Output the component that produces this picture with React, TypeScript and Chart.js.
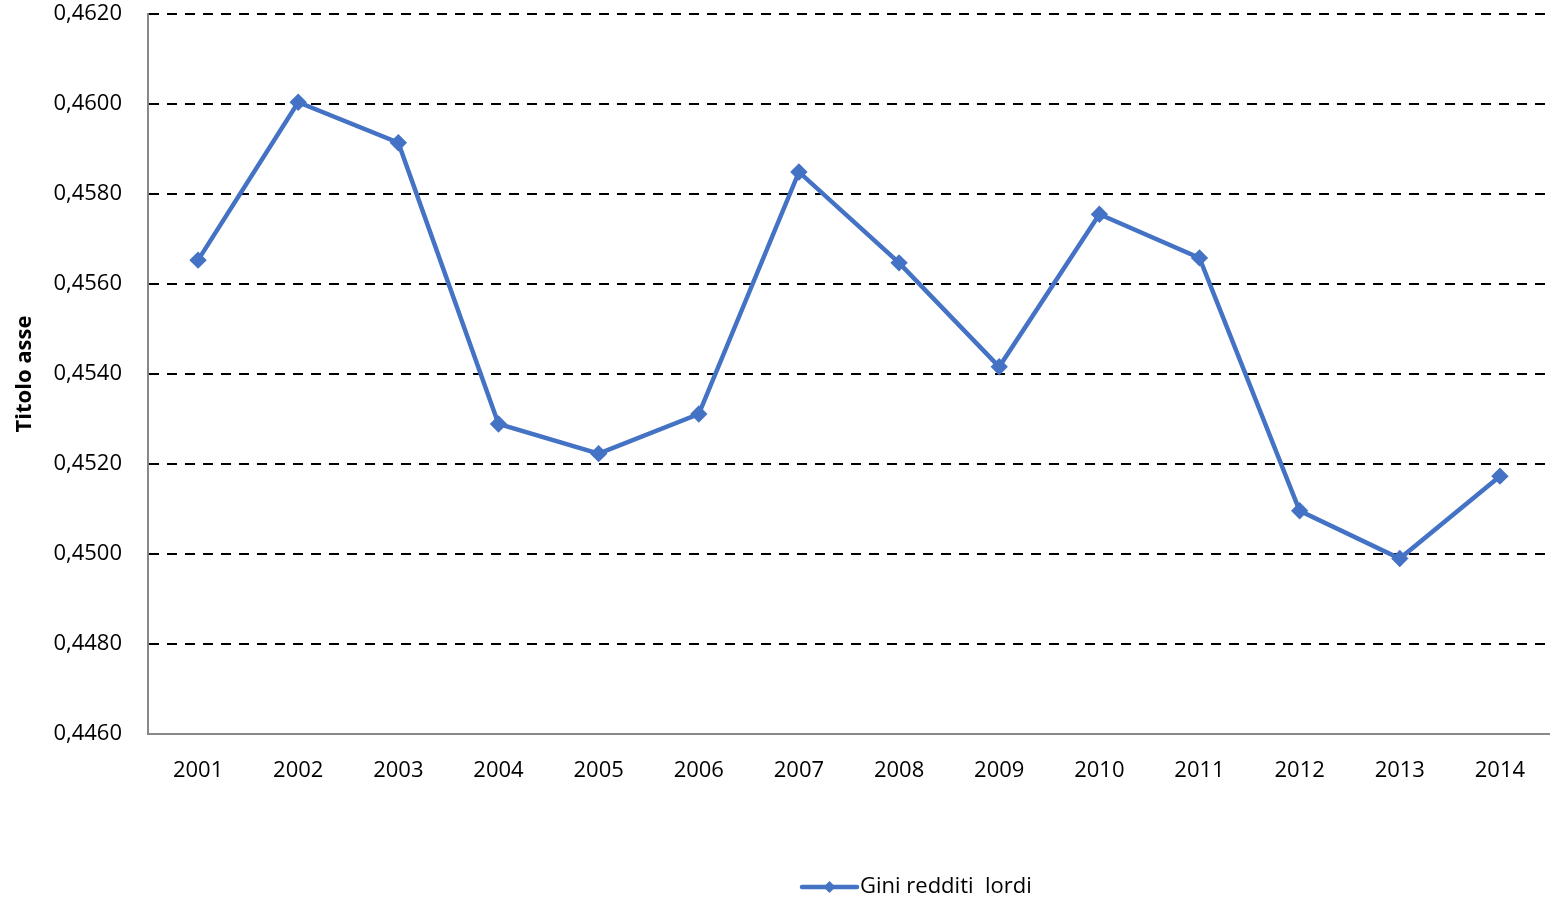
import React, { useEffect, useRef } from "react";
import { Chart, registerables } from "chart.js";

Chart.register(...registerables);

// Yearly Gini index on gross incomes
const years = ["2001", "2002", "2003", "2004", "2005", "2006", "2007", "2008", "2009", "2010", "2011", "2012", "2013", "2014"];
const giniLordi = [0.45653, 0.46004, 0.45914, 0.45289, 0.45223, 0.45311, 0.45849, 0.45647, 0.45416, 0.45755, 0.45658, 0.45096, 0.4499, 0.45173];
const seriesLabel = "Gini redditi  lordi";
const axisTitle = "Titolo asse";
const yMin = 0.446;
const yMax = 0.462;
const yStep = 0.002;

const BLUE = "#4472C4";
const FONT = "'Open Sans', 'Noto Sans', sans-serif";

// Draws a legend entry (line sample with a diamond, then the label) at the bottom
const bottomLegend = {
  id: "bottomLegend",
  afterDraw(chart: any) {
    const ctx = chart.ctx as CanvasRenderingContext2D;
    const ds = chart.data.datasets[0];
    const cy = chart.height - 13;
    const x0 = 802;
    const x1 = 857;
    ctx.save();
    ctx.strokeStyle = ds.borderColor;
    ctx.lineWidth = 4.5;
    ctx.lineCap = "round";
    ctx.beginPath();
    ctx.moveTo(x0, cy);
    ctx.lineTo(x1, cy);
    ctx.stroke();
    const mx = (x0 + x1) / 2;
    const r = 6;
    ctx.fillStyle = ds.backgroundColor;
    ctx.beginPath();
    ctx.moveTo(mx, cy - r);
    ctx.lineTo(mx + r, cy);
    ctx.lineTo(mx, cy + r);
    ctx.lineTo(mx - r, cy);
    ctx.closePath();
    ctx.fill();
    ctx.fillStyle = "#000";
    ctx.font = `22px ${FONT}`;
    ctx.textBaseline = "middle";
    ctx.textAlign = "left";
    ctx.fillText(ds.label, x1 + 3, cy);
    ctx.restore();
  },
};

export default function App() {
  const canvasRef = useRef<HTMLCanvasElement | null>(null);

  useEffect(() => {
    if (!canvasRef.current) return;
    const chart = new Chart(canvasRef.current, {
      type: "line",
      data: {
        labels: years,
        datasets: [
          {
            label: seriesLabel,
            data: giniLordi,
            borderColor: BLUE,
            backgroundColor: BLUE,
            borderWidth: 4.5,
            pointStyle: "rectRot",
            pointRadius: 5.5,
            pointHoverRadius: 5.5,
            pointBackgroundColor: BLUE,
            pointBorderColor: BLUE,
            tension: 0,
            clip: false,
          },
        ],
      },
      options: {
        animation: false,
        responsive: false,
        maintainAspectRatio: false,
        layout: { autoPadding: false, padding: { top: 14, right: 0, left: 0, bottom: 0 } },
        plugins: {
          legend: { display: false },
          tooltip: { enabled: false },
        },
        scales: {
          x: {
            type: "category",
            offset: true,
            grid: { display: false, drawTicks: false },
            border: { display: true, color: "#888888", width: 2 },
            ticks: {
              color: "#000",
              font: { family: FONT, size: 22 },
              padding: 24,
              maxRotation: 0,
              autoSkip: false,
            },
            afterFit(scale: any) {
              scale.height = 166;
              scale.paddingLeft = 0;
              scale.paddingRight = 0;
            },
          },
          y: {
            min: yMin,
            max: yMax,
            grid: {
              drawTicks: false,
              color: (c: any) => (c.index === 0 ? "rgba(0,0,0,0)" : "#000"),
              lineWidth: 2,
            },
            border: { display: true, color: "#888888", width: 2, dash: [10, 8] },
            ticks: {
              stepSize: yStep,
              color: "#000",
              font: { family: FONT, size: 22 },
              padding: 26,
              callback: (v: any) => Number(v).toFixed(4).replace(".", ","),
            },
            title: {
              display: true,
              text: axisTitle,
              color: "#000",
              font: { family: FONT, size: 22, weight: "bold" },
              padding: { top: 12, bottom: 0 },
            },
            afterFit(scale: any) {
              scale.width = 148;
              scale.paddingTop = 0;
              scale.paddingBottom = 0;
            },
          },
        },
      },
      plugins: [bottomLegend],
    });
    return () => chart.destroy();
  }, []);

  return (
    <div style={{ position: "absolute", left: 0, top: 0, width: 1550, height: 900, background: "#fff" }}>
      <canvas ref={canvasRef} width={1550} height={900} style={{ display: "block" }} />
    </div>
  );
}
